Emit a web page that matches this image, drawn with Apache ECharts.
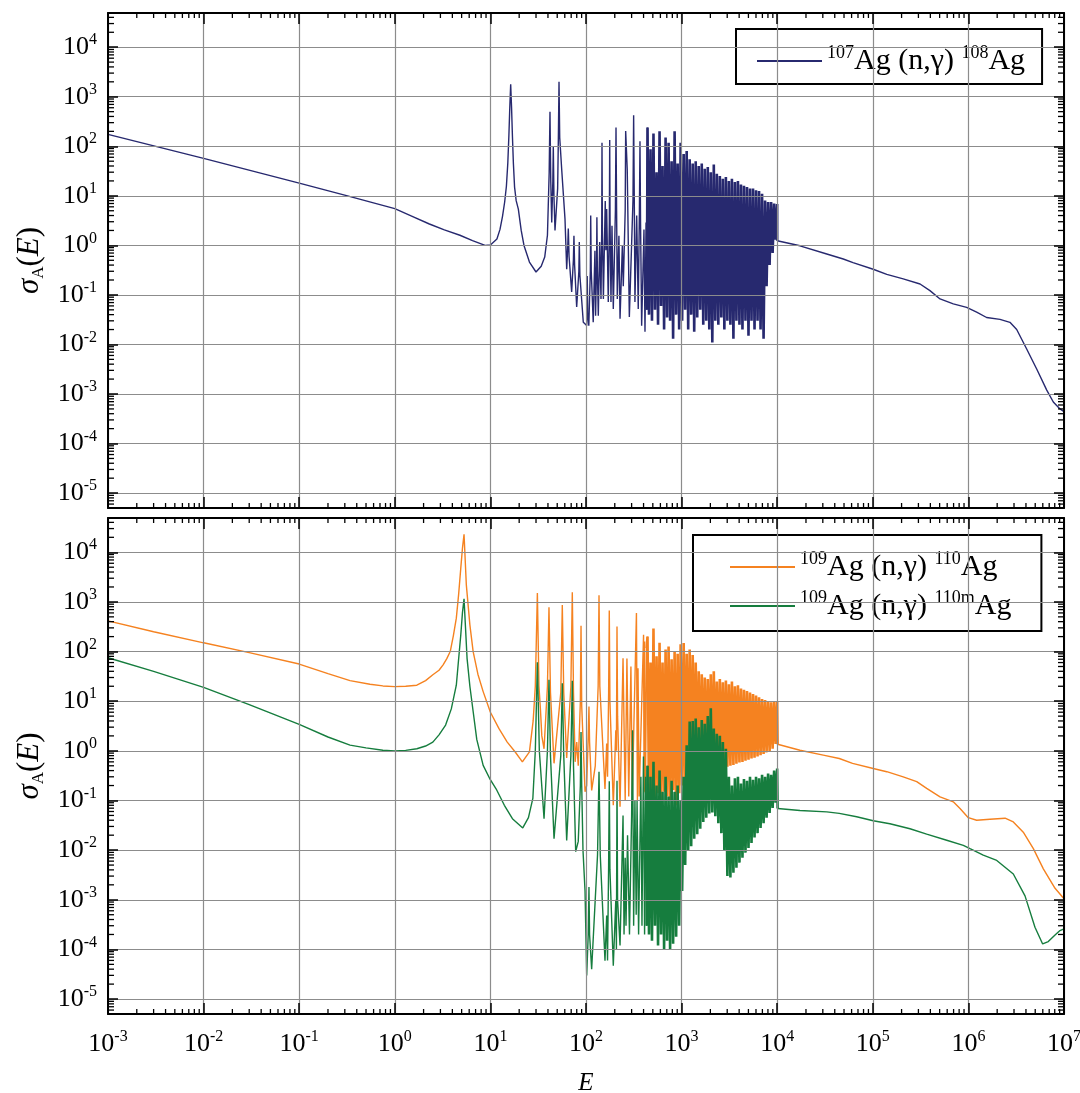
<!DOCTYPE html>
<html><head><meta charset="utf-8">
<script src="https://cdn.jsdelivr.net/npm/echarts@6/dist/echarts.min.js"></script>
<style>html,body{margin:0;padding:0;background:#fff}#c{width:1080px;height:1093px}</style>
</head><body><div id="c"></div>
<script>
// ---------------- data (E in eV, sigma in b) ----------------
const seriesNames = ['ag107', 'ag110', 'ag110m'];
const seriesColors = ['#27296f', '#f58220', '#167d3e'];
const legendLabels = {
  ag107: '{p|107}{t|Ag (n,γ) }{p|108}{t|Ag}',
  ag110: '{p|109}{t|Ag (n,γ) }{p|110}{t|Ag}',
  ag110m: '{p|109}{t|Ag (n,γ) }{p|110m}{t|Ag}'
};
const xRange = [1e-3, 1e7];
const yRange = [5e-6, 4.9e4];

// 107Ag(n,γ)108Ag – thermal + resolved resonances
const ag107Low = [[0.001,174],[0.01,57],[0.1,18],[0.32,10],[1,5.5],[1.5,3.9],[2.3,2.7],[3.3,2.05],[4.8,1.6],[6.5,1.25],[8.8,1.0],[10,1.02],[11.7,1.34],[12.6,2.1],[13.4,3.9],[14.1,7.5],[14.7,15.6],[15.2,45],[15.6,160],[15.95,600],[16.3,1780],[16.65,600],[17.0,160],[17.4,45],[17.9,15],[18.6,8],[19.6,5.4],[21,2],[22.5,0.98],[25.6,0.46],[30,0.29],[34,0.38],[37,0.58],[39.5,1.6],[41.2,30],[42,500],[42.8,20],[43.8,2.9],[45,20],[45.5,100],[46.2,10],[47.4,2.0],[50.5,14],[51.4,150],[52.2,2000],[53.1,150],[55.7,34],[60.3,3.4],[62.8,0.33],[64.5,1.0],[65.3,2.2],[66.5,0.6],[70.8,0.115],[73.8,0.5],[74.8,1.56],[76,0.4],[79.9,0.057],[84.2,0.3],[85.1,1.17],[86.3,0.25],[93.7,0.028],[101.7,0.024],[103,0.24],[104.3,0.04],[107,0.024],[111,0.3],[112,4],[113.5,0.3],[119,0.028],[124,0.78],[126,0.038],[129,0.4],[130,3.7],[131.5,0.3],[134.5,0.038],[139,1.17],[143.5,0.083],[146,2],[147,118],[148.5,2],[152,0.083],[159,7.9],[161.5,0.8],[164.5,5.4],[171,0.072],[175.5,3],[177,134],[178.5,3],[182.5,0.072],[187,2.5],[193,0.052],[203,5],[206,240],[209,5],[212.5,0.083],[221,1.56],[227,0.033],[240,1.0],[245.5,0.15],[257,5],[260,204],[270,34],[284,0.036],[310,8],[315,425],[320,8],[325,0.072],[339,4],[352,0.052],[362,5],[367,127],[372,3],[382,0.024],[404,2.1],[414,0.018],[425,2.9],[433,0.05]];

// energies of the densely packed resonance band (shared by all three curves)
const denseEnergy = [440,456,473,490,508,527,547,567,588,610,632,656,680,705,731,758,786,815,845,877,909,943,977,1013,1051,1090,1130,1172,1215,1260,1307,1355,1405,1457,1511,1567,1625,1685,1747,1812,1879,1948,2020,2095,2172,2253,2336,2422,2512,2605,2701,2801,2905,3012,3124,3239,3359,3483,3612,3746,3884,4028,4177,4331,4492,4658,4830,5009,5194,5386,5586,5792,6007,6229,6459,6698,6946,7203,7470,7746,8033,8330,8638,8958,9289,9633,9990];

const ag107Dense = [240,0.04,87,0.03,180,0.05,30,0.025,200,0.06,40,0.02,150,0.035,118,0.03,50,0.013,200,0.04,45,0.02,118,0.03,70,0.05,80,0.02,55,0.04,45,0.018,50,0.035,40,0.05,45,0.025,35,0.03,38,0.02,30,0.011,43,0.03,28,0.025,25,0.035,22,0.02,24,0.03,20,0.025,22,0.013,19,0.03,20,0.025,17,0.02,16,0.03,15,0.015,14,0.03,14,0.02,13,0.03,12.5,0.02,11,0.013,8,0.15,7.5,0.4,7.5,0.7,7,1.3,6.8];

const ag107High = [[10000,1.24],[17300,0.98],[33000,0.67],[49100,0.53],[62100,0.45],[101000,0.33],[140000,0.26],[208000,0.21],[312000,0.166],[396000,0.122],[505000,0.083],[695000,0.066],[959000,0.056],[1.22e6,0.045],[1.55e6,0.035],[2.14e6,0.032],[2.72e6,0.028],[3.2e6,0.020],[4.07e6,0.0081],[5.18e6,0.0032],[6.6e6,0.0012],[7.73e6,0.00069],[9.08e6,0.0005],[1e7,0.00044]];

// 109Ag(n,γ)110Ag
const ag110Low = [[0.001,415],[0.003,250],[0.01,150],[0.03,95],[0.1,56],[0.2,36],[0.34,26],[0.55,22],[0.75,20.3],[1,19.7],[1.3,20],[1.7,21],[2.1,26],[2.5,34],[2.9,42],[3.2,54],[3.5,72],[3.8,100],[4.1,210],[4.4,470],[4.65,1400],[4.9,4800],[5.1,12000],[5.3,23000],[5.45,7000],[5.6,2200],[6.1,345],[6.6,100],[7.4,35],[8.4,15.6],[10,6],[12.3,2.8],[15,1.5],[18.1,0.96],[21.6,0.6],[25.6,0.95],[28,4],[29.5,20],[31,1510],[32.2,20],[33.4,6.6],[34.5,2],[36.4,1.1],[39.5,20],[41,780],[42.5,15],[46.3,0.56],[54.5,15],[56.5,870],[58.5,15],[62.8,0.72],[69.5,20],[71.9,1560],[74,15],[77,0.6],[80,1.5],[83,0.5],[87.3,10],[88.7,330],[90.2,8],[97.7,0.15],[101.7,0.2],[105.5,2],[107.4,7.8],[109,1.5],[114.6,0.16],[125,0.5],[134,20],[136.8,1360],[139.5,20],[158,0.17],[164.6,1.4],[168,0.3],[172.5,15],[175.2,675],[178,10],[193,0.08],[205,2.6],[208,1],[211,320],[214,5],[227,0.075],[244,73],[257,0.1],[268,72],[280,0.12],[295,50],[305,0.13],[337,600],[345,0.1],[350,46],[360,0.12],[400,218],[405,0.15],[410,160],[418,0.14],[431,117]];

const ag110Dense = [200,0.12,60,0.15,290,0.1,80,0.14,150,0.09,60,0.15,110,0.12,127,0.1,70,0.16,100,0.08,90,0.14,140,0.2,148,0.22,90,0.24,110,0.26,85,0.28,60,0.3,40,0.32,35,0.34,30,0.36,28,0.38,35,0.4,40,0.42,25,0.43,28,0.44,24,0.46,26,0.48,22,0.5,25,0.52,20,0.55,21,0.58,18,0.6,17,0.63,16,0.66,15,0.7,14,0.73,13,0.77,12,0.82,11,0.87,10.5,0.93,10,1.0,9.5,1.1,9.8,1.38,9.8];

const ag110High = [[10100,1.36],[17300,1.03],[30300,0.82],[44600,0.70],[61400,0.56],[101000,0.44],[140000,0.38],[208000,0.30],[288000,0.24],[366000,0.175],[505000,0.118],[695000,0.094],[817000,0.069],[998000,0.045],[1.22e6,0.040],[1.68e6,0.042],[2.42e6,0.044],[2.95e6,0.037],[3.75e6,0.023],[4.78e6,0.0107],[6.08e6,0.0042],[8.06e6,0.0017],[1e7,0.00105]];

// 109Ag(n,γ)110mAg
const ag110mLow = [[0.001,75],[0.003,40],[0.01,19],[0.03,8.5],[0.1,3.4],[0.2,1.9],[0.34,1.3],[0.5,1.15],[0.75,1.03],[1,1.0],[1.3,1.02],[1.7,1.1],[2.1,1.25],[2.5,1.5],[2.9,2.1],[3.4,3.3],[3.9,7],[4.4,21],[4.65,70],[4.9,215],[5.1,600],[5.3,1150],[5.45,400],[5.7,73],[6.1,20],[6.6,6.2],[7.2,1.7],[8.4,0.51],[9.8,0.28],[11.5,0.17],[14,0.08],[17,0.043],[21.8,0.028],[25,0.045],[27.8,0.11],[29.5,1],[31,61],[32.5,1],[36.4,0.043],[39.5,1],[41,27],[42.5,0.8],[46.3,0.017],[54.5,0.8],[56.5,23],[58.5,0.8],[62.8,0.0157],[69.5,0.8],[71.9,25.7],[74,0.5],[78,0.0093],[83,0.015],[87.3,0.2],[88.7,2.4],[90.2,0.2],[93,0.01],[97.7,0.0015],[101.7,3e-5],[105.5,2e-4],[107.4,0.0018],[109,2e-4],[114.6,4e-5],[132,0.008],[136.8,0.38],[141,0.008],[158,5.9e-5],[164.6,4.8e-4],[168,6e-5],[172.5,0.005],[175.2,0.245],[178,0.004],[193,4.7e-5],[205,1e-3],[208,1e-4],[211,0.25],[214,1e-3],[227,1.2e-4],[244,0.05],[250,2e-4],[257,0.007],[262,3e-4],[272,0.02],[285,2e-4],[300,0.05],[307,2.6],[315,3e-4],[325,0.1],[335,5e-4],[342,0.1],[355,2e-4],[375,0.3],[385,3e-4],[399,0.77],[410,2e-4],[420,0.3],[431,3e-4]];

const ag110mDense = [0.5,2e-4,0.3,1.5e-4,0.6,3e-4,0.2,1.2e-4,0.4,2e-4,0.15,1e-4,0.3,1.5e-4,0.12,1e-4,0.25,1.3e-4,0.15,1.8e-4,0.2,3e-4,0.1,0.0015,0.3,0.005,1.3,0.01,3.9,0.012,4,0.017,4.5,0.021,3,0.027,4.2,0.037,3.5,0.045,5,0.055,7.2,0.057,2.8,0.048,2.2,0.035,2,0.022,1.5,0.01,1.1,0.003,0.3,0.0028,0.2,0.0035,0.28,0.0044,0.3,0.0056,0.22,0.007,0.27,0.0089,0.25,0.011,0.3,0.014,0.26,0.018,0.3,0.022,0.28,0.028,0.33,0.035,0.3,0.045,0.35,0.056,0.33,0.071,0.4,0.09,0.44];

const ag110mHigh = [[10100,0.069],[17300,0.063],[33000,0.059],[44600,0.055],[67800,0.047],[101000,0.039],[151000,0.034],[245000,0.027],[366000,0.021],[593000,0.0158],[885000,0.0125],[1.04e6,0.0107],[1.43e6,0.0079],[1.98e6,0.0062],[2.95e6,0.0033],[3.91e6,0.0012],[4.97e6,0.00028],[5.98e6,0.000129],[6.85e6,0.000144],[8.06e6,0.000195],[9.08e6,0.00024],[1e7,0.00026]];

const curveParts = {
  ag107: [ag107Low, ag107Dense, ag107High],
  ag110: [ag110Low, ag110Dense, ag110High],
  ag110m: [ag110mLow, ag110mDense, ag110mHigh]
};

// ---------------- chart ----------------
const F = 'Liberation Serif';
const labelRich = {
  b: {fontFamily: F, fontSize: 26, color: '#000', lineHeight: 30},
  s: {fontFamily: F, fontSize: 16, color: '#000', lineHeight: 14, verticalAlign: 'top'}
};
function powLabel(v) {
  const e = Math.round(Math.log10(v));
  return '{b|10}{s|' + e + '}';
}
const gridCol = '#8c8c8c';

function xAxis(gi, pos, labels) {
  const a = {
    type: 'log', logBase: 10, gridIndex: gi, position: pos, min: xRange[0], max: xRange[1], interval: 1,
    axisLine: {show: true, onZero: false, lineStyle: {color: '#000', width: 2}},
    axisTick: {show: true, inside: true, length: 11, lineStyle: {color: '#000', width: 1.5}},
    splitLine: {show: pos === 'bottom', lineStyle: {color: gridCol, width: 1.2}},
    axisLabel: {show: labels, margin: 15, formatter: powLabel, rich: labelRich},
    z: 10
  };
  if (labels) {
    a.name = 'E';
    a.nameLocation = 'middle';
    a.nameGap = 57;
    a.nameTextStyle = {fontFamily: F, fontSize: 25, fontStyle: 'italic', color: '#000'};
  }
  return a;
}
function yAxis(gi, pos, labels) {
  const a = {
    type: 'log', logBase: 10, gridIndex: gi, position: pos, min: yRange[0], max: yRange[1], splitNumber: 10,
    axisLine: {show: true, onZero: false, lineStyle: {color: '#000', width: 2}},
    axisTick: {show: true, inside: true, length: 10, lineStyle: {color: '#000', width: 1.5}},
    splitLine: {show: pos === 'left', lineStyle: {color: gridCol, width: 1.2}},
    axisLabel: {show: labels, margin: 11, formatter: powLabel, rich: labelRich, showMinLabel: false, showMaxLabel: false},
    z: 10
  };
  if (labels) {
    a.name = '{i|σ}{sub|A}{n|(}{i|E}{n|)}';
    a.nameLocation = 'middle';
    a.nameGap = 57;
    a.nameRotate = 90;
    a.nameTextStyle = {
      fontFamily: F, color: '#000', fontSize: 30,
      rich: {
        i: {fontFamily: F, fontStyle: 'italic', fontSize: 31, color: '#000', lineHeight: 34},
        n: {fontFamily: F, fontSize: 31, color: '#000', lineHeight: 34},
        sub: {fontFamily: F, fontSize: 17, color: '#000', verticalAlign: 'bottom', lineHeight: 14}
      }
    };
  }
  return a;
}

function minorTicks(xi, yi) {
  const data = [];
  for (let k = -3; k < 7; k++) for (let m = 2; m <= 9; m++) data.push([m * Math.pow(10, k), 1, 0]);
  for (let k = -6; k < 5; k++) for (let m = 2; m <= 9; m++) {
    const v = m * Math.pow(10, k);
    if (v > yRange[0] && v < yRange[1]) data.push([1, v, 1]);
  }
  return {
    type: 'custom', xAxisIndex: xi, yAxisIndex: yi, silent: true, clip: false, z: 11,
    data: data,
    renderItem: function (params, api) {
      const cs = params.coordSys;
      const p = api.coord([api.value(0), api.value(1)]);
      const st = {stroke: '#000', lineWidth: 1.3, fill: null};
      if (api.value(2) === 0) {
        const b = cs.y + cs.height, t = cs.y;
        return {type: 'group', children: [
          {type: 'line', shape: {x1: p[0], y1: b, x2: p[0], y2: b - 5}, style: st},
          {type: 'line', shape: {x1: p[0], y1: t, x2: p[0], y2: t + 5}, style: st}
        ]};
      }
      const l = cs.x, r = cs.x + cs.width;
      return {type: 'group', children: [
        {type: 'line', shape: {x1: l, y1: p[1], x2: l + 6, y2: p[1]}, style: st},
        {type: 'line', shape: {x1: r, y1: p[1], x2: r - 6, y2: p[1]}, style: st}
      ]};
    }
  };
}

// each curve is drawn as three consecutive pieces of one series name:
// the resolved part, the packed resonance band (drawn a bit heavier), and the fast part
function curveSeries(name, idx, axIdx) {
  const [low, dense, high] = curveParts[name];
  const densePts = denseEnergy.map((e, i) => [e, dense[i]]);
  const pieces = [
    {data: low.concat([densePts[0]]), w: 1.4},
    {data: [low[low.length - 1]].concat(densePts).concat([high[0]]), w: 2.6},
    {data: high, w: 1.4}
  ];
  return pieces.map(pc => ({
    name: name, type: 'line', xAxisIndex: axIdx, yAxisIndex: axIdx,
    data: pc.data, showSymbol: false, symbol: 'none',
    lineStyle: {color: seriesColors[idx], width: pc.w},
    itemStyle: {color: seriesColors[idx]},
    z: 3
  }));
}

const legendRich = {
  t: {fontFamily: F, fontSize: 30, color: '#000', lineHeight: 34},
  p: {fontFamily: F, fontSize: 18, color: '#000', lineHeight: 16, verticalAlign: 'top'}
};

const option = {
  animation: false,
  backgroundColor: '#fff',
  grid: [
    {left: 108, top: 13, width: 956, height: 495, outerBoundsMode: 'none'},
    {left: 108, top: 518, width: 956, height: 496, outerBoundsMode: 'none'}
  ],
  xAxis: [xAxis(0, 'bottom', false), xAxis(0, 'top', false), xAxis(1, 'bottom', true), xAxis(1, 'top', false)],
  yAxis: [yAxis(0, 'left', true), yAxis(0, 'right', false), yAxis(1, 'left', true), yAxis(1, 'right', false)],
  legend: [
    {
      data: ['ag107'], left: 736, top: 29, orient: 'vertical',
      padding: [15, 17, 8, 21], itemWidth: 65, itemHeight: 2, icon: 'rect',
      borderColor: '#000', borderWidth: 2, backgroundColor: '#fff', selectedMode: false,
      formatter: n => legendLabels[n], textStyle: {fontFamily: F, rich: legendRich}
    },
    {
      data: ['ag110', 'ag110m'], left: 693, top: 535, orient: 'vertical', itemGap: 7,
      padding: [15, 30, 10, 37], itemWidth: 65, itemHeight: 2, icon: 'rect',
      borderColor: '#000', borderWidth: 2, backgroundColor: '#fff', selectedMode: false,
      formatter: n => legendLabels[n], textStyle: {fontFamily: F, rich: legendRich}
    }
  ],
  series: [].concat(
    curveSeries('ag107', 0, 0),
    curveSeries('ag110', 1, 2),
    curveSeries('ag110m', 2, 2),
    [minorTicks(0, 0), minorTicks(2, 2)]
  )
};

const chart = echarts.init(document.getElementById('c'), null, {renderer: 'canvas'});
chart.setOption(option);
</script>
</body></html>
